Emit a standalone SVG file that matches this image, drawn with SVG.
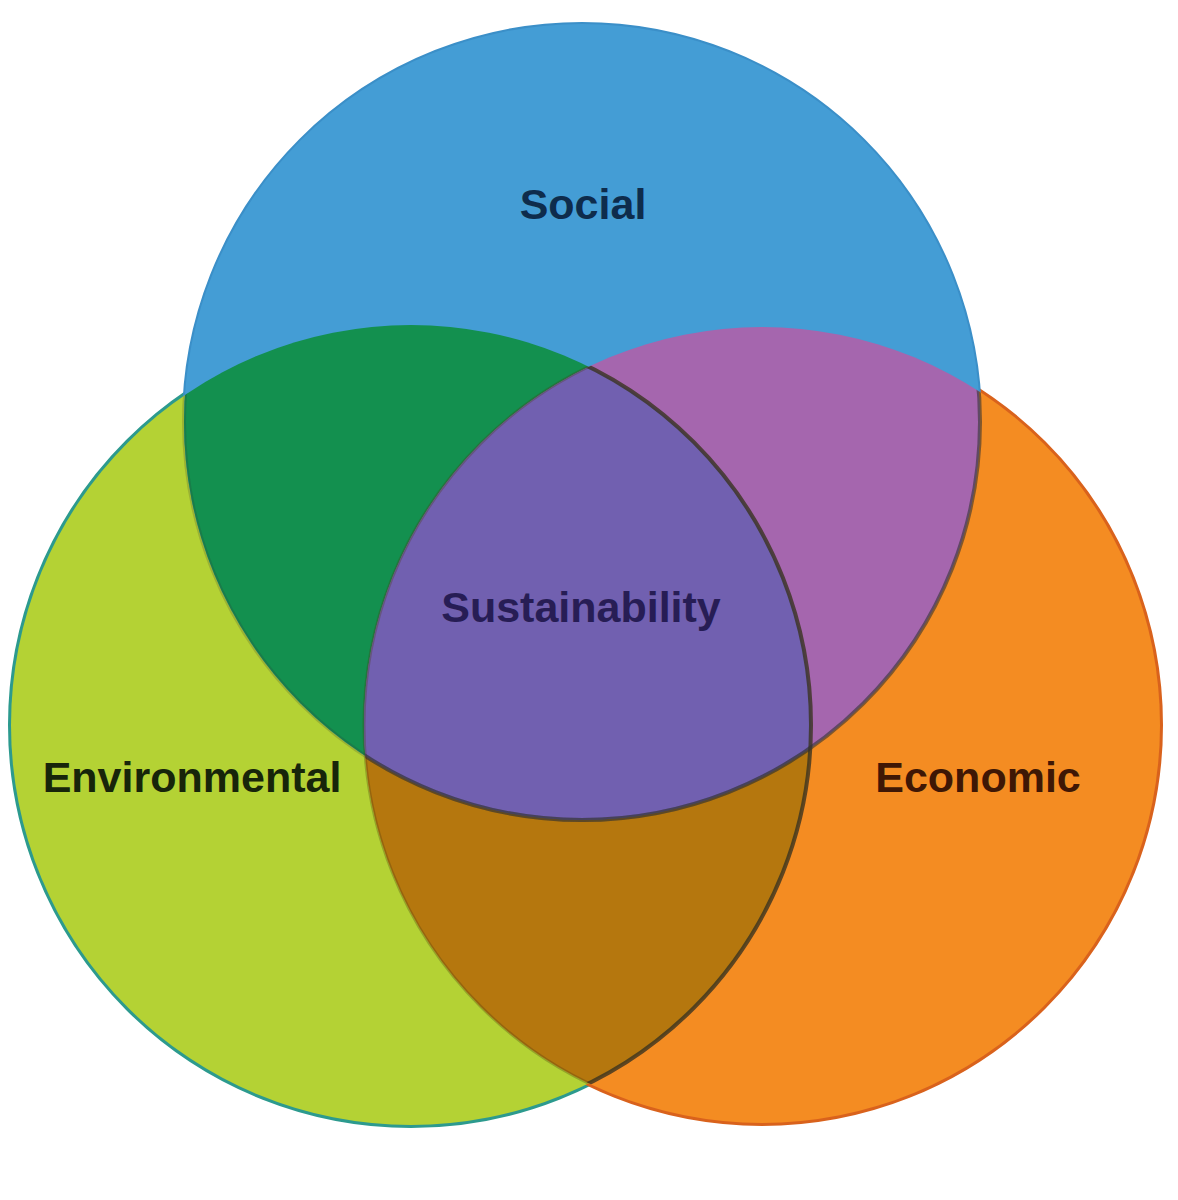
<svg xmlns="http://www.w3.org/2000/svg" width="1178" height="1200" viewBox="0 0 1178 1200">
<style>
.lbl{font-family:"Liberation Sans",Arial,Helvetica,sans-serif;font-weight:bold;font-size:43px;text-anchor:middle}
</style>
<defs>
<clipPath id="cS"><circle cx="582" cy="422" r="398"/></clipPath>
<clipPath id="cE"><circle cx="411" cy="725" r="400"/></clipPath>
<clipPath id="cC"><circle cx="762" cy="725" r="398"/></clipPath>
</defs>
<rect width="1178" height="1200" fill="#ffffff"/>
<g id="outer-edges">
<circle cx="411" cy="725" r="400" fill="none" stroke="#2C9A8E" stroke-width="6"/>
<circle cx="762" cy="725" r="398" fill="none" stroke="#D9621C" stroke-width="6"/>
<circle cx="582" cy="422" r="398" fill="none" stroke="#3B8FC8" stroke-width="4"/>
</g>
<g id="environmental">
<circle cx="411" cy="725" r="400" fill="#B4D234"/>
</g>
<g id="economic">
<circle cx="762" cy="725" r="398" fill="#F48C22"/>
</g>
<g id="social">
<circle cx="582" cy="422" r="398" fill="#449DD5"/>
</g>
<g id="overlaps">
<circle cx="762" cy="725" r="398" fill="#B5770E" clip-path="url(#cE)"/>
<circle cx="411" cy="725" r="400" fill="#13904F" clip-path="url(#cS)"/>
<circle cx="762" cy="725" r="398" fill="#A566AE" clip-path="url(#cS)"/>
<g clip-path="url(#cS)"><circle cx="762" cy="725" r="398" fill="#7160B0" clip-path="url(#cE)"/></g>
</g>
<g id="inner-edges" fill="none">
<circle cx="411" cy="725" r="400" stroke="#3A3320" stroke-width="4" stroke-opacity="0.8" clip-path="url(#cC)"/>
<circle cx="762" cy="725" r="398" stroke="#4A3A10" stroke-width="3" stroke-opacity="0.3" clip-path="url(#cE)"/>
<circle cx="582" cy="422" r="398" stroke="#333333" stroke-width="4" stroke-opacity="0.6" clip-path="url(#cC)"/>
<circle cx="582" cy="422" r="398" stroke="#333333" stroke-width="4" stroke-opacity="0.2" clip-path="url(#cE)"/>
</g>
<g id="labels">
<text class="lbl" x="583" y="219" fill="#0E2C4C">Social</text>
<text class="lbl" x="581" y="622" fill="#271D55">Sustainability</text>
<text class="lbl" x="192" y="792" fill="#17250A">Environmental</text>
<text class="lbl" x="978" y="792" fill="#3F1705">Economic</text>
</g>
</svg>
